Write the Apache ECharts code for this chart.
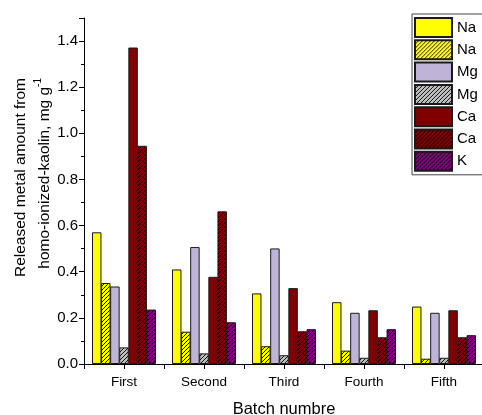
<!DOCTYPE html>
<html>
<head>
<meta charset="utf-8">
<script src="https://cdn.jsdelivr.net/npm/echarts@6/dist/echarts.min.js"></script>
<style>html,body{margin:0;padding:0;background:#fff}#c{width:482px;height:415px}</style>
</head>
<body>
<div id="c"></div>
<script>
var categories = ['First', 'Second', 'Third', 'Fourth', 'Fifth'];
var naA = [0.571, 0.410, 0.306, 0.268, 0.249];
var naB = [0.351, 0.140, 0.077, 0.058, 0.023];
var mgA = [0.336, 0.507, 0.501, 0.222, 0.222];
var mgB = [0.072, 0.046, 0.038, 0.027, 0.027];
var caA = [1.372, 0.378, 0.329, 0.233, 0.233];
var caB = [0.946, 0.662, 0.142, 0.116, 0.116];
var kB  = [0.236, 0.181, 0.151, 0.151, 0.125];
var yTicks = [0, 0.2, 0.4, 0.6, 0.8, 1.0, 1.2, 1.4];

function hatch(bg) {
  var s = 4;
  var cv = document.createElement('canvas');
  cv.width = s; cv.height = s;
  var ctx = cv.getContext('2d');
  ctx.fillStyle = bg; ctx.fillRect(0, 0, s, s);
  ctx.strokeStyle = '#000'; ctx.lineWidth = 0.9;
  ctx.beginPath();
  ctx.moveTo(-1, s + 1); ctx.lineTo(s + 1, -1);
  ctx.moveTo(-1, 1); ctx.lineTo(1, -1);
  ctx.moveTo(s - 1, s + 1); ctx.lineTo(s + 1, s - 1);
  ctx.stroke();
  return { image: cv, repeat: 'repeat' };
}

var defs = [
  { name: 'Na (a)', data: naA, color: '#FFFF00' },
  { name: 'Na (b)', data: naB, color: hatch('#FFFF00') },
  { name: 'Mg (a)', data: mgA, color: '#BFB4D8' },
  { name: 'Mg (b)', data: mgB, color: hatch('#C0C0C0') },
  { name: 'Ca (a)', data: caA, color: '#800000' },
  { name: 'Ca (b)', data: caB, color: hatch('#800000') },
  { name: 'K (b)',  data: kB,  color: hatch('#800080') }
];

var series = defs.map(function (d) {
  return {
    type: 'bar', name: d.name, data: d.data,
    barGap: '-4%', barCategoryGap: '20%',
    itemStyle: { color: d.color, borderColor: '#1a1a1a', borderWidth: 1 },
    emphasis: { disabled: true }
  };
});

var chart = echarts.init(document.getElementById('c'), null, { renderer: 'canvas' });
chart.setOption({
  animation: false,
  backgroundColor: '#fff',
  textStyle: { fontFamily: 'Liberation Sans, Arial, sans-serif', color: '#000' },
  grid: { left: 84, right: -2, top: 18, bottom: 51, containLabel: false, outerBoundsMode: 'none' },
  legend: {
    orient: 'vertical', left: 412, top: 14,
    padding: [3, 8, 3, 2], itemGap: 1.3, itemWidth: 37, itemHeight: 19,
    borderColor: '#444', borderWidth: 1, backgroundColor: '#fff',
    icon: 'rect',
    textStyle: { fontSize: 15, lineHeight: 19, color: '#000', fontFamily: 'Liberation Sans, Arial, sans-serif', padding: [0, 0, 0, 0] },
    formatter: function (n) { return n.replace(/ \(.\)$/, ''); },
    data: defs.map(function (d) { return d.name; })
  },
  xAxis: [{
    type: 'category', data: categories, boundaryGap: true,
    name: 'Batch numbre', nameLocation: 'middle', nameGap: 37, nameMoveOverlap: false,
    nameTextStyle: { fontSize: 16.5, color: '#000' },
    axisLine: { lineStyle: { color: '#000', width: 1 } },
    axisTick: { show: true, length: 5, lineStyle: { color: '#000' } },
    axisLabel: { fontSize: 13.5, color: '#000', margin: 11 },
    splitLine: { show: false }
  }, {
    type: 'category', data: categories, position: 'bottom', gridIndex: 0,
    axisLine: { show: false },
    axisTick: { show: true, alignWithLabel: true, length: 5, lineStyle: { color: '#000' } },
    axisLabel: { show: false }, splitLine: { show: false }
  }],
  yAxis: {
    type: 'value', min: 0, max: 1.5, interval: 0.2,
    name: '{a|Released metal amount from}\n{b|homo-ionized-kaolin, mg g}{s|-1}',
    nameLocation: 'middle', nameGap: 27, nameMoveOverlap: false,
    nameTextStyle: {
      fontSize: 15.5, color: '#000', lineHeight: 24, padding: [0, 0, 0, 27],
      rich: {
        a: { fontSize: 15.5, lineHeight: 24, color: '#000', align: 'left' },
        b: { fontSize: 15.5, lineHeight: 24, color: '#000', align: 'right' },
        s: { fontSize: 10, lineHeight: 15, verticalAlign: 'top', color: '#000', align: 'right' }
      }
    },
    axisLine: { show: true, lineStyle: { color: '#000', width: 1 } },
    axisTick: { show: true, length: 5, lineStyle: { color: '#000' } },
    minorTick: { show: true, splitNumber: 2, length: 3, lineStyle: { color: '#000' } },
    axisLabel: {
      fontSize: 15, color: '#000', margin: 6, showMaxLabel: false,
      formatter: function (v) { return yTicks.indexOf(Math.round(v * 10) / 10) >= 0 ? v.toFixed(1) : ''; }
    },
    splitLine: { show: false }
  },
  series: series
});
</script>
</body>
</html>
